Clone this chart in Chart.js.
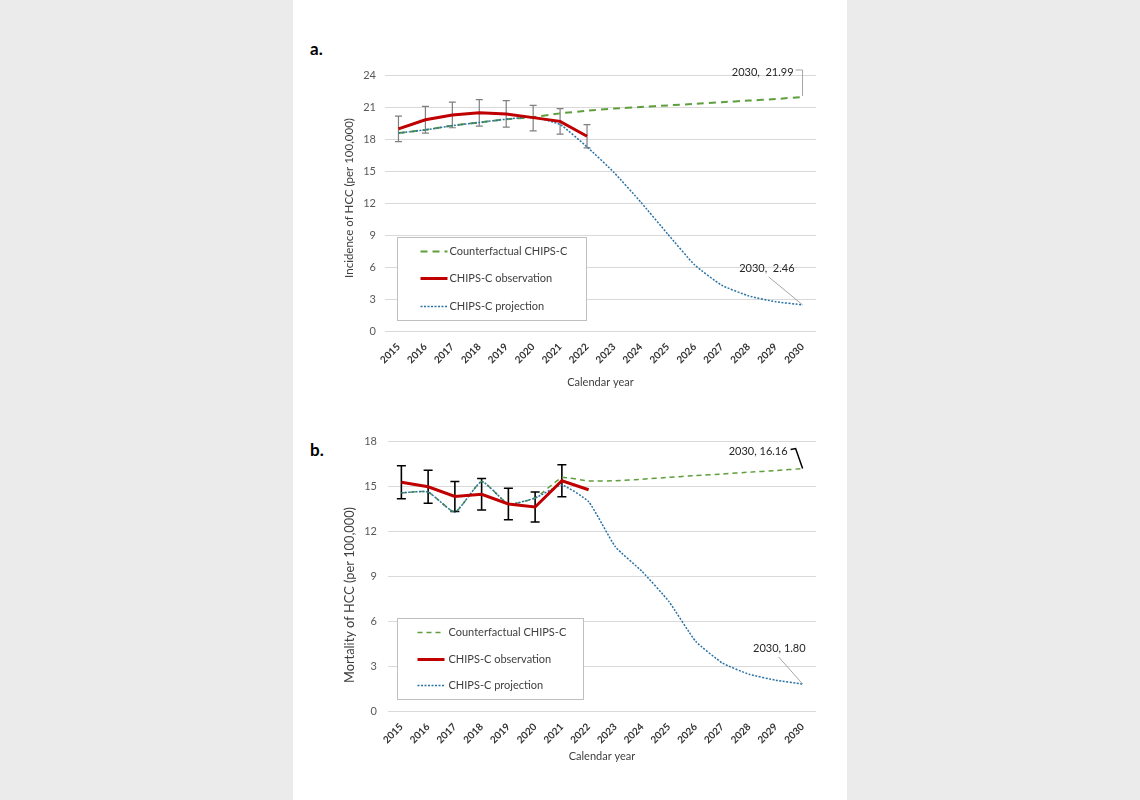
<!DOCTYPE html>
<html>
<head>
<meta charset="utf-8">
<script src="https://cdn.jsdelivr.net/npm/chart.js@4.4.1/dist/chart.umd.min.js"></script>
<style>
  html, body { margin: 0; padding: 0; background: #ebebeb; }
  #page { position: absolute; left: 293px; top: 0; width: 554px; height: 800px; background: #fff; }
  .panel { position: absolute; left: 0; width: 554px; }
  .tag { position: absolute; left: 17px; font: bold 17px Lato, sans-serif; color: #000; }
</style>
</head>
<body>
<div id="page">
  <div class="tag" style="top:38px">a.</div>
  <div class="panel" style="top:60px;height:333px"><canvas id="incChart"></canvas></div>
  <div class="tag" style="top:439px">b.</div>
  <div class="panel" style="top:420px;height:347px"><canvas id="morChart"></canvas></div>
</div>
<script>
// data
const years = ['2015','2016','2017','2018','2019','2020','2021','2022',
               '2023','2024','2025','2026','2027','2028','2029','2030'];

// a. incidence
const incTicks = [0, 3, 6, 9, 12, 15, 18, 21, 24];
const incObs  = [19.0, 19.85, 20.3, 20.5, 20.4, 20.05, 19.7, 18.3];
const incLow  = [17.8, 18.6, 19.1, 19.25, 19.15, 18.8, 18.5, 17.2];
const incHigh = [20.2, 21.1, 21.5, 21.75, 21.65, 21.2, 20.9, 19.4];
const incProj = [18.6, 18.9, 19.3, 19.6, 19.9, 20.1, 19.4, 17.3, 14.9, 12.1, 9.1, 6.2, 4.3, 3.3, 2.75, 2.46];
const incCf   = [18.6, 18.9, 19.3, 19.6, 19.9, 20.1, 20.45, 20.7, 20.9, 21.05, 21.2, 21.35, 21.5, 21.65, 21.8, 21.99];

// b. mortality
const morTicks = [0, 3, 6, 9, 12, 15, 18];
const morObs  = [15.25, 14.95, 14.3, 14.45, 13.8, 13.6, 15.35, 14.75];
const morLow  = [14.15, 13.85, 13.3, 13.4, 12.75, 12.6, 14.28];
const morHigh = [16.35, 16.05, 15.3, 15.5, 14.85, 14.6, 16.42];
const morProj = [14.55, 14.6, 13.25, 15.3, 13.8, 14.2, 15.05, 13.95, 10.95, 9.3, 7.3, 4.65, 3.2, 2.45, 2.05, 1.80];
const morCf   = [14.55, 14.6, 13.25, 15.3, 13.8, 14.2, 15.55, 15.33, 15.35, 15.45, 15.58, 15.7, 15.8, 15.92, 16.03, 16.16];

const labelCf = 'Counterfactual CHIPS-C';
const labelObs = 'CHIPS-C observation';
const labelProj = 'CHIPS-C projection';

const FONT = 'Lato, sans-serif';

// error bars from low/high arrays
const errorBars = {
  id: 'errorBars',
  beforeDatasetsDraw(chart, args, o) {
    const { ctx, scales: { x, y } } = chart;
    ctx.save();
    ctx.strokeStyle = o.color;
    ctx.lineWidth = o.width;
    o.low.forEach((lo, i) => {
      const px = x.getPixelForValue(i);
      const y1 = y.getPixelForValue(lo), y2 = y.getPixelForValue(o.high[i]);
      ctx.beginPath();
      ctx.moveTo(px, y1); ctx.lineTo(px, y2);
      ctx.moveTo(px - o.cap, y1); ctx.lineTo(px + o.cap, y1);
      ctx.moveTo(px - o.cap, y2); ctx.lineTo(px + o.cap, y2);
      ctx.stroke();
    });
    ctx.restore();
  }
};

// boxed legend inside plot area
const boxLegend = {
  id: 'boxLegend',
  afterDraw(chart, args, o) {
    const { ctx, chartArea } = chart;
    const bx = Math.round(chartArea.left + o.dx) + 0.5, by = Math.round(chartArea.top + o.dy) + 0.5;
    ctx.save();
    ctx.fillStyle = '#fff';
    ctx.fillRect(bx, by, o.w, o.h);
    ctx.strokeStyle = '#bfbfbf';
    ctx.lineWidth = 1;
    ctx.strokeRect(bx, by, o.w, o.h);
    o.order.forEach((di, k) => {
      const ds = chart.data.datasets[di];
      const ly = by + o.rows[k];
      ctx.beginPath();
      ctx.strokeStyle = ds.borderColor;
      ctx.lineWidth = ds.borderWidth;
      ctx.setLineDash(ds.borderDash || []);
      ctx.moveTo(bx + o.s0, ly); ctx.lineTo(bx + o.s1, ly);
      ctx.stroke();
      ctx.setLineDash([]);
      ctx.fillStyle = '#404040';
      ctx.font = '11px ' + FONT;
      ctx.textAlign = 'left';
      ctx.textBaseline = 'middle';
      ctx.fillText(ds.label, bx + o.tx, ly);
    });
    ctx.restore();
  }
};

// 2030 value callouts
const callouts = {
  id: 'callouts',
  afterDatasetsDraw(chart, args, o) {
    const { ctx } = chart;
    o.items.forEach(it => {
      const pt = chart.getDatasetMeta(it.ds).data[it.idx];
      ctx.save();
      ctx.strokeStyle = it.color;
      ctx.lineWidth = it.width;
      ctx.beginPath();
      it.path.forEach(([dx, dy], k) => k ? ctx.lineTo(pt.x + dx, pt.y + dy) : ctx.moveTo(pt.x + dx, pt.y + dy));
      ctx.stroke();
      ctx.fillStyle = '#262626';
      ctx.font = '11px ' + FONT;
      ctx.textAlign = 'right';
      ctx.textBaseline = 'middle';
      ctx.fillText(it.text, pt.x + it.tx, pt.y + it.ty);
      ctx.restore();
    });
  }
};

// y axis title at a fixed spot
const sideTitle = {
  id: 'sideTitle',
  afterDraw(chart, args, o) {
    const { ctx } = chart;
    ctx.save();
    ctx.translate(o.x, o.y);
    ctx.rotate(-Math.PI / 2);
    ctx.fillStyle = '#404040';
    ctx.font = o.size + 'px ' + FONT;
    ctx.textAlign = 'center';
    ctx.textBaseline = 'middle';
    ctx.fillText(o.text, 0, 0);
    ctx.restore();
  }
};

function makeChart(id, cfg) {
  return new Chart(document.getElementById(id), {
    type: 'line',
    data: {
      labels: years,
      datasets: [
        { label: labelObs, data: cfg.obs, borderColor: '#c00000', borderWidth: 3,
          pointRadius: 0, tension: 0 },
        { label: labelProj, data: cfg.proj, borderColor: '#2a72a6', borderWidth: 1.5,
          borderDash: [2, 1.5], pointRadius: 0, tension: 0.15 },
        { label: labelCf, data: cfg.cf, borderColor: '#5e9e3c', borderWidth: cfg.cfWidth,
          borderDash: cfg.cfDash, pointRadius: 0, tension: 0.15 }
      ]
    },
    plugins: [errorBars, boxLegend, callouts, sideTitle],
    options: {
      responsive: true,
      maintainAspectRatio: false,
      animation: false,
      events: [],
      layout: { padding: cfg.padding },
      plugins: {
        legend: { display: false },
        tooltip: { enabled: false },
        errorBars: { low: cfg.low, high: cfg.high, color: cfg.errColor, width: cfg.errWidth, cap: cfg.errCap },
        boxLegend: cfg.legend,
        callouts: { items: cfg.callouts },
        sideTitle: cfg.yTitle
      },
      scales: {
        x: {
          offset: true,
          grid: { display: false },
          border: { display: false },
          ticks: { autoSkip: false, minRotation: 45, maxRotation: 45, padding: 2,
                    color: '#333', font: { family: FONT, size: 10, weight: 'bold' } },
          title: { display: true, text: 'Calendar year', color: '#404040',
                   font: { family: FONT, size: 11 }, padding: { top: 4, bottom: 4 } },
          afterFit(s) { s.height = cfg.xHeight; }
        },
        y: {
          min: cfg.ticks[0],
          max: cfg.ticks[cfg.ticks.length - 1],
          afterBuildTicks(s) { s.ticks = cfg.ticks.map(v => ({ value: v })); },
          grid: { color: '#d9d9d9', drawTicks: false },
          border: { display: false },
          ticks: { padding: cfg.yPad, color: '#595959', font: { family: FONT, size: 11 } },
          afterFit(s) { s.width = cfg.yWidth; }
        }
      }
    }
  });
}

makeChart('incChart', {
  obs: incObs, proj: incProj, cf: incCf, low: incLow, high: incHigh, ticks: incTicks,
  cfWidth: 2, cfDash: [7, 5],
  errColor: '#7f7f7f', errWidth: 1.2, errCap: 3.5,
  padding: { left: 45, right: 31, top: 15, bottom: 0 },
  xHeight: 62, yWidth: 47, yPad: 9,
  yTitle: { text: 'Incidence of HCC (per 100,000)', x: 56, y: 138, size: 11.5 },
  legend: { dx: 12, dy: 161, w: 189, h: 83, rows: [14, 41, 69], s0: 23, s1: 50, tx: 52, order: [2, 0, 1] },
  callouts: [
    { ds: 2, idx: years.length - 1, text: years[15] + ',  ' + incCf[15].toFixed(2), tx: -9, ty: -25,
      color: '#a6a6a6', width: 1, path: [[-7, -27], [0, -27], [0, -1]] },
    { ds: 1, idx: years.length - 1, text: years[15] + ',  ' + incProj[15].toFixed(2), tx: -8, ty: -36,
      color: '#a6a6a6', width: 1, path: [[-34, -28], [0, 0]] }
  ]
});

makeChart('morChart', {
  obs: morObs, proj: morProj, cf: morCf, low: morLow, high: morHigh, ticks: morTicks,
  cfWidth: 1.5, cfDash: [5, 4],
  errColor: '#000', errWidth: 1.6, errCap: 4.5,
  padding: { left: 45, right: 31, top: 21, bottom: 0 },
  xHeight: 56, yWidth: 50, yPad: 11,
  yTitle: { text: 'Mortality of HCC (per 100,000)', x: 57, y: 175, size: 12.8 },
  legend: { dx: 9, dy: 177, w: 186, h: 81, rows: [14, 41, 67], s0: 20, s1: 47, tx: 51, order: [2, 0, 1] },
  callouts: [
    { ds: 2, idx: years.length - 1, text: years[15] + ', ' + morCf[15].toFixed(2), tx: -15, ty: -17,
      color: '#000', width: 1.5, path: [[-12, -19], [-7, -20], [0, 0]] },
    { ds: 1, idx: years.length - 1, text: years[15] + ', ' + morProj[15].toFixed(2), tx: 3, ty: -36,
      color: '#a6a6a6', width: 1, path: [[-24, -27], [0, 0]] }
  ]
});
</script>
</body>
</html>
